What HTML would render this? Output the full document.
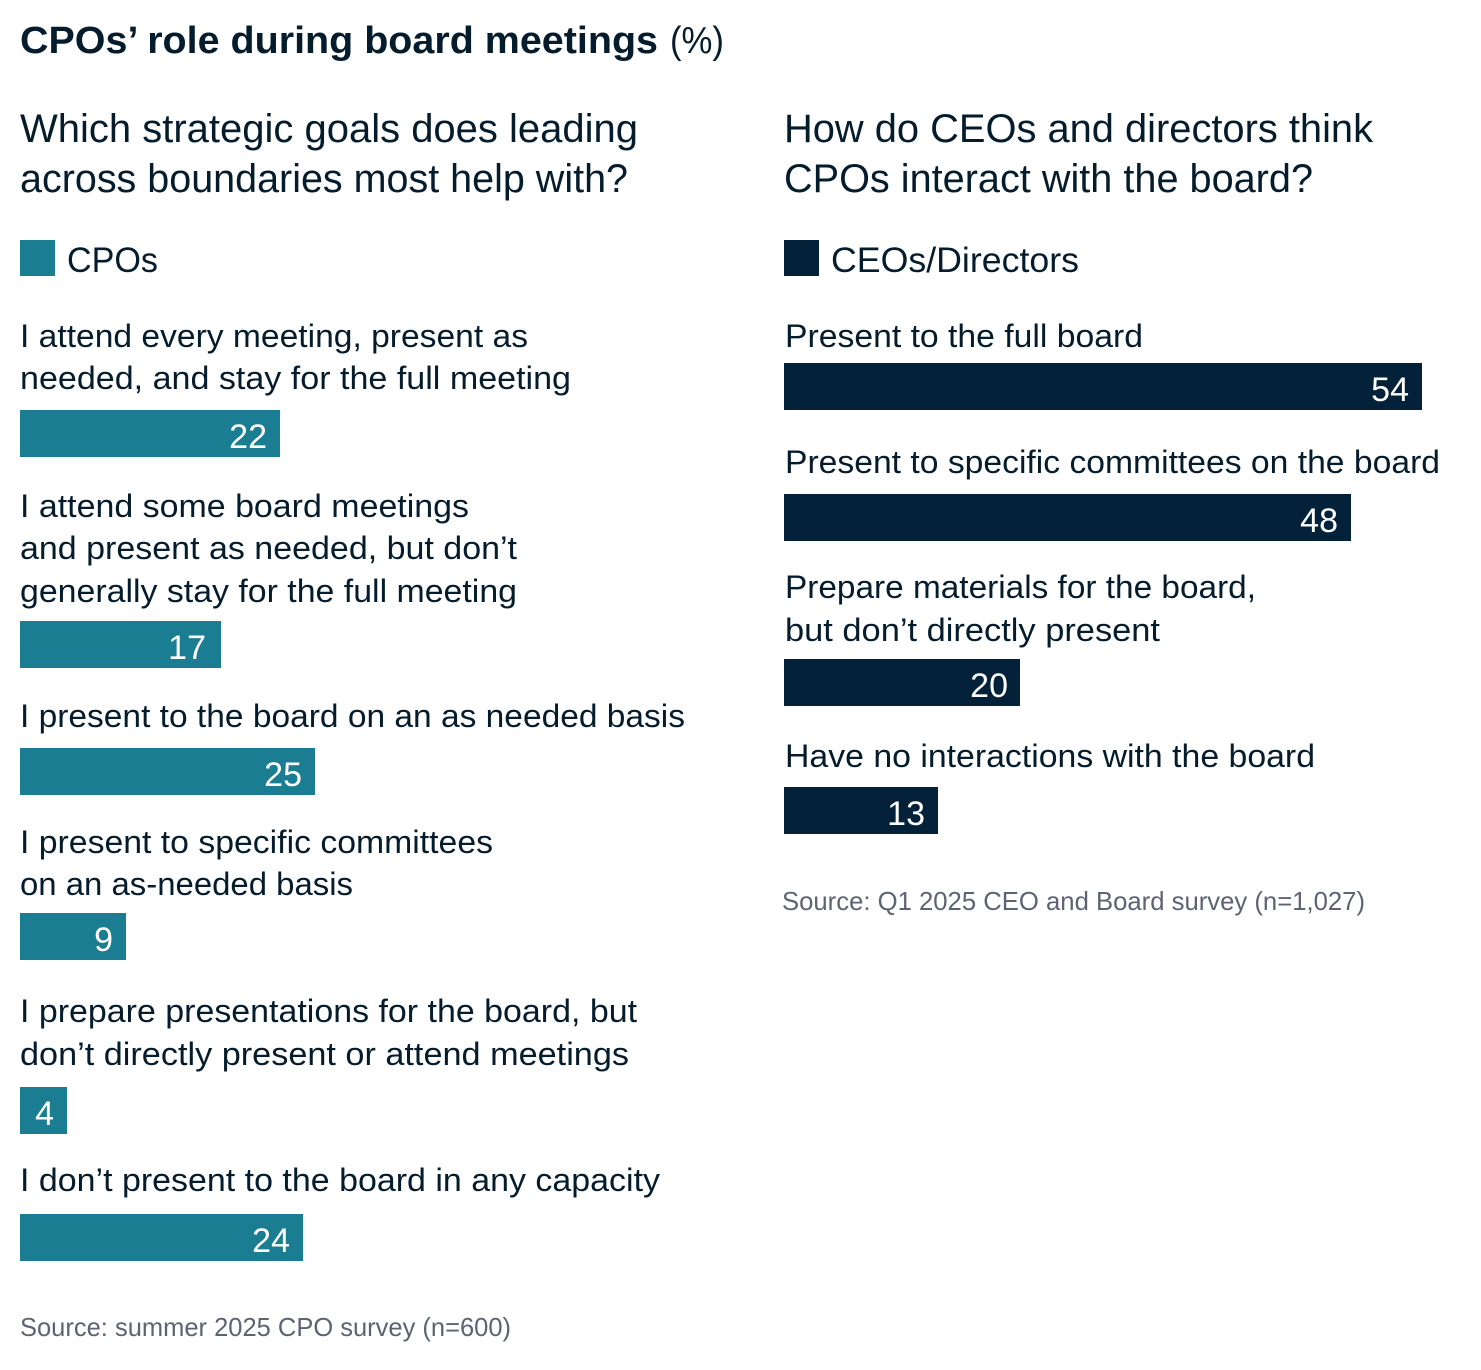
<!DOCTYPE html>
<html>
<head>
<meta charset="utf-8">
<style>
  html,body{margin:0;padding:0;background:#fff;}
  svg{display:block;}
  text{font-family:"Liberation Sans",Arial,sans-serif;}
</style>
</head>
<body>
<svg width="1481" height="1370" viewBox="0 0 1481 1370" xmlns="http://www.w3.org/2000/svg">
  <rect width="1481" height="1370" fill="#ffffff"/>

  <!-- Title -->
  <text x="20" y="53" font-size="38" font-weight="bold" fill="#051c2c" textLength="638" lengthAdjust="spacingAndGlyphs">CPOs’ role during board meetings</text>
  <text x="670" y="53" font-size="38" fill="#051c2c" textLength="54" lengthAdjust="spacingAndGlyphs">(%)</text>

  <!-- Left subtitle -->
  <text x="20" y="142" font-size="40" fill="#051c2c" textLength="618" lengthAdjust="spacingAndGlyphs">Which strategic goals does leading</text>
  <text x="20" y="192" font-size="40" fill="#051c2c" textLength="608" lengthAdjust="spacingAndGlyphs">across boundaries most help with?</text>

  <!-- Right subtitle -->
  <text x="784" y="142" font-size="40" fill="#051c2c" textLength="589" lengthAdjust="spacingAndGlyphs">How do CEOs and directors think</text>
  <text x="784" y="192" font-size="40" fill="#051c2c" textLength="529" lengthAdjust="spacingAndGlyphs">CPOs interact with the board?</text>

  <!-- Legends -->
  <rect x="20" y="240" width="35" height="36" fill="#1b7d91"/>
  <text x="67" y="272" font-size="35" fill="#051c2c" textLength="91" lengthAdjust="spacingAndGlyphs">CPOs</text>
  <rect x="784" y="240" width="35" height="36" fill="#03223a"/>
  <text x="831" y="272" font-size="35" fill="#051c2c" textLength="248" lengthAdjust="spacingAndGlyphs">CEOs/Directors</text>

  <!-- Left labels -->
  <g font-size="32" fill="#051c2c">
    <text x="20" y="347" textLength="508" lengthAdjust="spacingAndGlyphs">I attend every meeting, present as</text>
    <text x="20" y="389" textLength="551" lengthAdjust="spacingAndGlyphs">needed, and stay for the full meeting</text>

    <text x="20" y="517" textLength="449" lengthAdjust="spacingAndGlyphs">I attend some board meetings</text>
    <text x="20" y="559" textLength="497" lengthAdjust="spacingAndGlyphs">and present as needed, but don’t</text>
    <text x="20" y="602" textLength="497" lengthAdjust="spacingAndGlyphs">generally stay for the full meeting</text>

    <text x="20" y="727" textLength="665" lengthAdjust="spacingAndGlyphs">I present to the board on an as needed basis</text>

    <text x="20" y="853" textLength="473" lengthAdjust="spacingAndGlyphs">I present to specific committees</text>
    <text x="20" y="895" textLength="333" lengthAdjust="spacingAndGlyphs">on an as-needed basis</text>

    <text x="20" y="1022" textLength="617" lengthAdjust="spacingAndGlyphs">I prepare presentations for the board, but</text>
    <text x="20" y="1065" textLength="609" lengthAdjust="spacingAndGlyphs">don’t directly present or attend meetings</text>

    <text x="20" y="1191" textLength="640" lengthAdjust="spacingAndGlyphs">I don’t present to the board in any capacity</text>
  </g>

  <!-- Left bars -->
  <g fill="#1b7d91">
    <rect x="20" y="410" width="260" height="47"/>
    <rect x="20" y="621" width="201" height="47"/>
    <rect x="20" y="748" width="295" height="47"/>
    <rect x="20" y="913" width="106" height="47"/>
    <rect x="20" y="1087" width="47" height="47"/>
    <rect x="20" y="1214" width="283" height="47"/>
  </g>
  <g font-size="34" fill="#ffffff" text-anchor="end">
    <text x="267" y="448">22</text>
    <text x="206" y="659">17</text>
    <text x="302" y="786">25</text>
    <text x="113" y="951">9</text>
    <text x="54" y="1125">4</text>
    <text x="290" y="1252">24</text>
  </g>

  <!-- Left source -->
  <text x="20" y="1336" font-size="26" fill="#5c6373" textLength="491" lengthAdjust="spacingAndGlyphs">Source: summer 2025 CPO survey (n=600)</text>

  <!-- Right labels -->
  <g font-size="32" fill="#051c2c">
    <text x="785" y="347" textLength="358" lengthAdjust="spacingAndGlyphs">Present to the full board</text>
    <text x="785" y="473" textLength="655" lengthAdjust="spacingAndGlyphs">Present to specific committees on the board</text>
    <text x="785" y="598" textLength="471" lengthAdjust="spacingAndGlyphs">Prepare materials for the board,</text>
    <text x="785" y="641" textLength="375" lengthAdjust="spacingAndGlyphs">but don’t directly present</text>
    <text x="785" y="767" textLength="530" lengthAdjust="spacingAndGlyphs">Have no interactions with the board</text>
  </g>

  <!-- Right bars -->
  <g fill="#03223a">
    <rect x="784" y="363" width="638" height="47"/>
    <rect x="784" y="494" width="567" height="47"/>
    <rect x="784" y="659" width="236" height="47"/>
    <rect x="784" y="787" width="154" height="47"/>
  </g>
  <g font-size="34" fill="#ffffff" text-anchor="end">
    <text x="1409" y="401">54</text>
    <text x="1338" y="532">48</text>
    <text x="1008" y="697">20</text>
    <text x="925" y="825">13</text>
  </g>

  <!-- Right source -->
  <text x="782" y="910" font-size="26" fill="#5c6373" textLength="583" lengthAdjust="spacingAndGlyphs">Source: Q1 2025 CEO and Board survey (n=1,027)</text>
</svg>
</body>
</html>
